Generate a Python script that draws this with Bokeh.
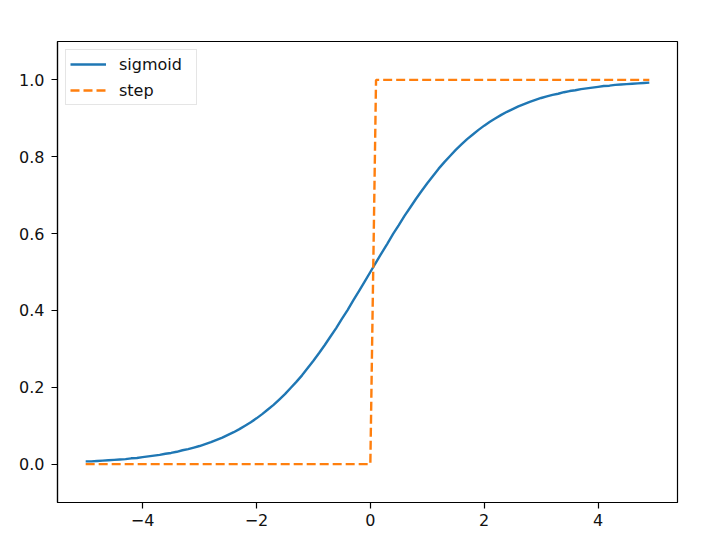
from bokeh.plotting import figure
from bokeh.models import Range1d, FixedTicker, Legend, LegendItem
from bokeh.embed import file_html
from bokeh.resources import INLINE

# ---- data ----
x_vals = [-5.0, -4.9, -4.8, -4.7, -4.6, -4.5, -4.4, -4.3, -4.2, -4.1,
          -4.0, -3.9, -3.8, -3.7, -3.6, -3.5, -3.4, -3.3, -3.2, -3.1,
          -3.0, -2.9, -2.8, -2.7, -2.6, -2.5, -2.4, -2.3, -2.2, -2.1,
          -2.0, -1.9, -1.8, -1.7, -1.6, -1.5, -1.4, -1.3, -1.2, -1.1,
          -1.0, -0.9, -0.8, -0.7, -0.6, -0.5, -0.4, -0.3, -0.2, -0.1,
          0.0, 0.1, 0.2, 0.3, 0.4, 0.5, 0.6, 0.7, 0.8, 0.9,
          1.0, 1.1, 1.2, 1.3, 1.4, 1.5, 1.6, 1.7, 1.8, 1.9,
          2.0, 2.1, 2.2, 2.3, 2.4, 2.5, 2.6, 2.7, 2.8, 2.9,
          3.0, 3.1, 3.2, 3.3, 3.4, 3.5, 3.6, 3.7, 3.8, 3.9,
          4.0, 4.1, 4.2, 4.3, 4.4, 4.5, 4.6, 4.7, 4.8, 4.9]
sigmoid_vals = [0.007, 0.007, 0.008, 0.009, 0.010, 0.011, 0.012, 0.013, 0.015, 0.016,
                0.018, 0.020, 0.022, 0.024, 0.027, 0.029, 0.032, 0.036, 0.039, 0.043,
                0.047, 0.052, 0.057, 0.063, 0.069, 0.076, 0.083, 0.091, 0.100, 0.109,
                0.119, 0.130, 0.142, 0.154, 0.168, 0.182, 0.198, 0.214, 0.231, 0.250,
                0.269, 0.289, 0.310, 0.332, 0.354, 0.378, 0.401, 0.426, 0.450, 0.475,
                0.500, 0.525, 0.550, 0.574, 0.599, 0.622, 0.646, 0.668, 0.690, 0.711,
                0.731, 0.750, 0.769, 0.786, 0.802, 0.818, 0.832, 0.846, 0.858, 0.870,
                0.881, 0.891, 0.900, 0.909, 0.917, 0.924, 0.931, 0.937, 0.943, 0.948,
                0.953, 0.957, 0.961, 0.964, 0.968, 0.971, 0.973, 0.976, 0.978, 0.980,
                0.982, 0.984, 0.985, 0.987, 0.988, 0.989, 0.990, 0.991, 0.992, 0.993]
step_x = [-5.0, 0.0, 0.1, 4.9]
step_y = [0.0, 0.0, 1.0, 1.0]

x_ticks = [-4, -2, 0, 2, 4]
x_tick_labels = ["\u22124", "\u22122", "0", "2", "4"]
y_ticks = [0.0, 0.2, 0.4, 0.6, 0.8, 1.0]
y_tick_labels = ["0.0", "0.2", "0.4", "0.6", "0.8", "1.0"]

FONT = "DejaVu Sans"
FS = "16px"

p = figure(width=722, height=545, output_backend="svg", toolbar_location=None,
           x_range=Range1d(-5.495, 5.395), y_range=Range1d(-0.1, 1.1),
           min_border_left=57, min_border_right=45, min_border_top=41, min_border_bottom=43)
p.background_fill_color = "white"
p.border_fill_color = "white"
p.grid.visible = False
p.outline_line_color = "black"
p.outline_line_width = 1.2

for ax, ticks, labels in ((p.xaxis[0], x_ticks, x_tick_labels), (p.yaxis[0], y_ticks, y_tick_labels)):
    ax.ticker = FixedTicker(ticks=ticks)
    ax.major_label_overrides = {t: l for t, l in zip(ticks, labels)}
    ax.major_tick_out = 6
    ax.major_tick_in = 0
    ax.minor_tick_out = 0
    ax.minor_tick_in = 0
    ax.major_tick_line_color = "black"
    ax.major_tick_line_width = 1.2
    ax.axis_line_color = "black"
    ax.axis_line_width = 1.2
    ax.major_label_text_font = FONT
    ax.major_label_text_font_size = FS
    ax.major_label_text_color = "#111111"
p.xaxis.major_label_standoff = 5
p.yaxis.major_label_standoff = 7

r1 = p.line(x_vals, sigmoid_vals, line_color="#1f77b4", line_width=2.4)
r2 = p.line(step_x, step_y, line_color="#ff7f0e", line_width=2.4, line_dash="9 4")

legend = Legend(items=[LegendItem(label="sigmoid", renderers=[r1]),
                       LegendItem(label="step", renderers=[r2])],
                location="top_left")
legend.margin = 8
legend.padding = 4
legend.spacing = 6
legend.glyph_width = 36
legend.glyph_height = 20
legend.label_height = 20
legend.label_width = 73
legend.label_standoff = 13
legend.label_text_font = FONT
legend.label_text_font_size = FS
legend.label_text_color = "#111111"
legend.border_line_color = "#cccccc"
legend.border_line_width = 1
legend.background_fill_color = "white"
legend.background_fill_alpha = 0.8
p.add_layout(legend)

open("out.html", "w").write(file_html(p, INLINE))
